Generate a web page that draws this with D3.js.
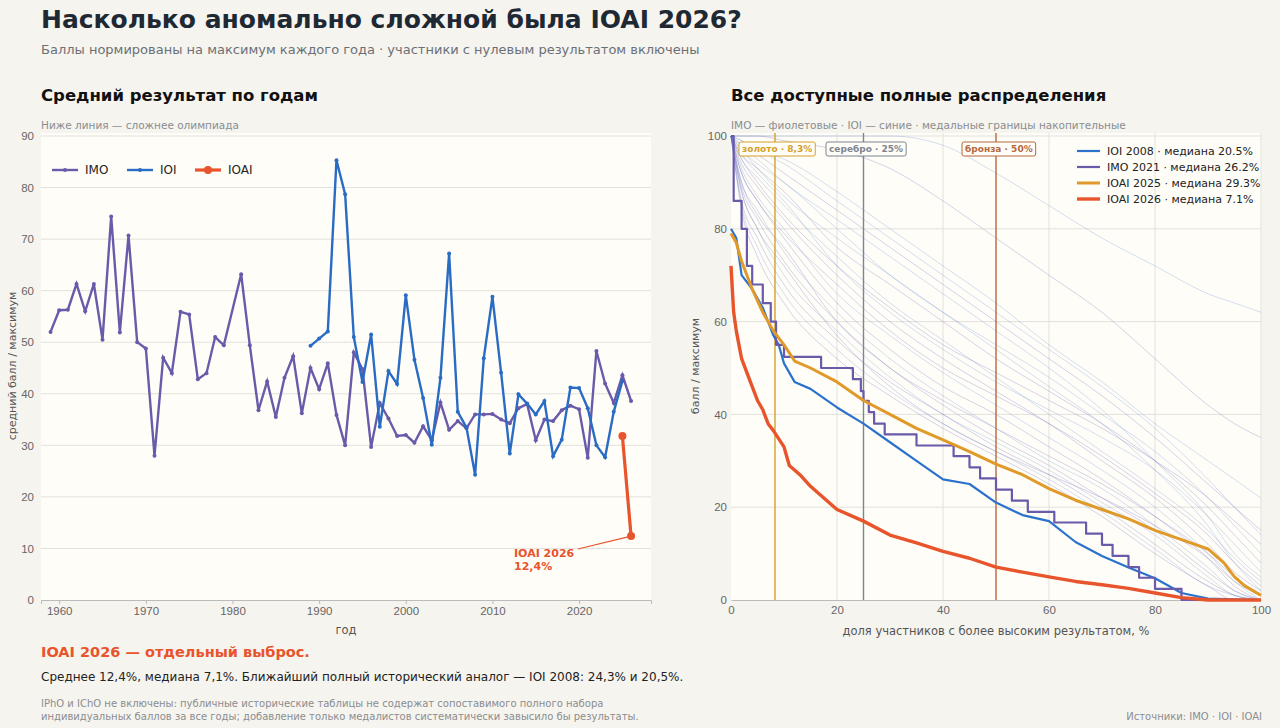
<!DOCTYPE html>
<html><head><meta charset="utf-8">
<script src="https://cdn.jsdelivr.net/npm/d3@7"></script>
<style>body{margin:0;background:#f6f4ef;font-family:"DejaVu Sans",sans-serif}</style>
</head><body><div id="chart"></div>
<script>
// DATA
var imoYears = [1959,1960,1961,1962,1963,1964,1965,1966,1967,1968,1969,1970,1971,1972,1973,1974,1975,1976,1977,1978,1979,1981,1982,1983,1984,1985,1986,1987,1988,1989,1990,1991,1992,1993,1994,1995,1996,1997,1998,1999,2000,2001,2002,2003,2004,2005,2006,2007,2008,2009,2010,2011,2012,2013,2014,2015,2016,2017,2018,2019,2020,2021,2022,2023,2024,2025,2026];
var imoMeans = [52,56.2,56.3,61.3,56,61.3,50.5,74.4,51.9,70.7,50,48.8,28,47,44,55.9,55.4,42.8,44,51,49.4,63.2,49.4,36.8,42.4,35.5,43.1,47.3,36.2,45,40.9,45.9,35.9,30,48,44.8,29.7,38.2,35.2,31.8,32,30.5,33.7,31,38.3,33,34.7,33.3,36,36,36.1,35,34.3,37.2,38,31,35,34.7,36.8,37.7,37,27.6,48.3,42,38.2,43.6,38.6];
var ioiYears = [1989,1990,1991,1992,1993,1994,1995,1996,1997,1998,1999,2000,2001,2002,2003,2004,2005,2006,2007,2008,2009,2010,2011,2012,2013,2014,2015,2016,2017,2018,2019,2020,2021,2022,2023,2024,2025];
var ioiMeans = [49.3,50.7,52.1,85.3,78.7,51,42.3,51.5,33.6,44.4,41.9,59.1,46.6,39.2,30.1,43.1,67.2,36.5,33.5,24.3,46.9,58.8,44.1,28.4,39.9,38.1,36,38.6,27.9,31.1,41.2,41.1,37.2,30,27.7,36.5,42.5];
var ioaiYears = [2025,2026];
var ioaiMeans = [31.8,12.4];

var ioi2008 = [[0,80],[1,78],[2,70],[4,67],[6,63],[8,57],[9,55],[10,51],[12,47],[15,45.5],[20,41.5],[25,38],[30,34],[35,30],[40,26],[45,25],[50,21],[55,18.3],[60,17],[65,12.5],[70,9.5],[75,7],[80,4.7],[85,1.5],[90,0.3],[100,0]];
var imo2021 = [[0,100],[0.5,86],[2,80],[3,72],[4,68],[6,64],[7.5,60],[8.5,55],[10,52.4],[17,50],[23,47.6],[24.5,45],[25,42.9],[26,40.5],[27,38],[29,35.7],[35,33.3],[42,31],[45,28.6],[47,26.2],[50,23.8],[53,21.4],[56,19],[61,16.7],[67,14.3],[70,11.9],[72,9.5],[75,7.1],[77,4.8],[80,2.4],[85,0],[100,0]];
var ioai2025 = [[0,79],[1,77],[2,73],[4,67],[6,62],[8,58],[10,55],[12,51.5],[15,50],[20,47],[25,43],[30,40],[35,37],[40,34.5],[45,32],[50,29.3],[55,27],[60,24],[65,21.5],[70,19.5],[75,17.5],[80,15],[85,13],[90,11],[93,8],[95,5],[97,3],[100,1]];
var ioai2026 = [[0,72],[0.5,62],[1,58],[2,52],[3,49],[4,46],[5,43],[6,41],[7,38],[8,36.5],[10,33],[11,29],[13,27],[15,24.5],[18,21.5],[20,19.5],[25,17],[30,14],[35,12.3],[40,10.5],[45,9],[50,7.1],[55,6],[60,5],[65,4],[70,3.3],[75,2.5],[80,1.5],[85,0.5],[90,0],[100,0]];

// faint background distributions: score at these % points
var bgPct = [0,2,5,10,20,30,40,50,60,70,80,90,95,100];
var bgCurves = [
  [100,100,100,100,100,100,98,92,85,78,72,66,64,62],
  [100,100,100,99,97,93,86,78,70,62,52,42,38,35],
  [100,99,97,95,88,80,72,64,55,47,38,30,26,22],
  [100,98,96,92,84,76,68,60,52,44,35,25,20,15],
  [100,97,94,90,80,70,62,55,48,40,32,22,16,10],
  [100,96,93,88,76,68,60,52,45,38,30,20,14,8],
  [100,95,91,85,74,64,56,48,40,32,24,15,9,4],
  [100,94,89,82,70,60,52,45,38,30,22,12,6,2],
  [100,93,87,80,66,57,49,42,35,28,20,10,4,0],
  [100,92,86,78,64,54,46,40,33,26,18,9,3,0],
  [100,90,84,75,62,52,44,37,30,24,16,7,2,0],
  [100,89,82,73,60,50,42,35,29,22,15,6,2,0],
  [100,88,80,70,58,48,40,34,28,21,14,5,1,0],
  [100,86,78,68,56,47,40,33,27,20,12,4,1,0],
  [100,85,76,66,54,45,38,32,26,19,11,3,1,0],
  [100,84,74,64,52,44,37,31,25,18,10,3,0,0],
  [100,96,92,86,72,62,54,47,41,35,28,18,12,6],
  [100,95,90,83,72,63,55,49,43,37,30,22,17,12],
  [100,98,95,90,82,74,66,58,50,41,30,18,10,5],
  [100,92,86,79,68,58,50,44,38,31,23,14,8,3],
  [100,99,97,94,86,78,70,62,54,46,37,26,20,14],
  [100,90,83,76,60,50,43,37,31,25,18,10,5,1],
  [100,97,93,87,78,70,62,54,46,38,28,16,8,2],
  [100,88,80,72,57,46,38,32,27,22,16,9,4,1]
];

var medalPct = [8.3, 25, 50];
var medalLabels = ["золото · 8,3%", "серебро · 25%", "бронза · 50%"];
var medalColors = ["#d4a02a", "#7d8590", "#b5683d"];

var width = 1280, height = 728;
var svg = d3.select("#chart").append("svg").attr("width", width).attr("height", height);
svg.append("rect").attr("width", width).attr("height", height).attr("fill", "#f6f4ef");

// TITLES
svg.append("text").attr("x", 41).attr("y", 28).attr("font-size", 25).attr("font-weight", "bold")
  .attr("fill", "#1f2933").text("Насколько аномально сложной была IOAI 2026?");
svg.append("text").attr("x", 41).attr("y", 54).attr("font-size", 13).attr("fill", "#6b7076")
  .text("Баллы нормированы на максимум каждого года · участники с нулевым результатом включены");
svg.append("text").attr("x", 41).attr("y", 101).attr("font-size", 16.5).attr("font-weight", "bold")
  .attr("fill", "#111").text("Средний результат по годам");
svg.append("text").attr("x", 41).attr("y", 129).attr("font-size", 10.5).attr("fill", "#8a8d90")
  .text("Ниже линия — сложнее олимпиада");
svg.append("text").attr("x", 731).attr("y", 101).attr("font-size", 16.5).attr("font-weight", "bold")
  .attr("fill", "#111").text("Все доступные полные распределения");
svg.append("text").attr("x", 731).attr("y", 129).attr("font-size", 10.5).attr("fill", "#8a8d90")
  .text("IMO — фиолетовые · IOI — синие · медальные границы накопительные");

// LEFT CHART
var L = {l: 41, r: 651, t: 133, b: 600};
var x = d3.scaleLinear().domain([1957.9, 2028.3]).range([L.l, L.r]);
var y = d3.scaleLinear().domain([0, 90]).range([L.b, 136]);
var left = svg.append("g");
left.append("rect").attr("x", L.l).attr("y", L.t).attr("width", L.r - L.l).attr("height", L.b - L.t).attr("fill", "#fffdf8");
left.append("g").selectAll("line").data(d3.range(10, 91, 10)).enter().append("line")
  .attr("x1", L.l).attr("x2", L.r).attr("y1", y).attr("y2", y).attr("stroke", "#e3e1dc");
var ax = left.append("g").attr("transform", "translate(0," + L.b + ")")
  .call(d3.axisBottom(x).tickValues(d3.range(1960, 2021, 10)).tickFormat(d3.format("d")).tickSize(4));
var ay = left.append("g").attr("transform", "translate(" + L.l + ",0)")
  .call(d3.axisLeft(y).tickValues(d3.range(0, 91, 10)).tickSize(0).tickPadding(7));
[ax, ay].forEach(function(a){
  a.select(".domain").attr("stroke", "#bbb");
  a.selectAll("line").attr("stroke", "#bbb");
  a.selectAll("text").attr("fill", "#666").attr("font-size", 11.5);
});
ay.select(".domain").remove();
left.append("text").attr("x", 346).attr("y", 634).attr("text-anchor", "middle").attr("font-size", 11.5).attr("fill", "#555").text("год");
left.append("text").attr("transform", "translate(16,366) rotate(-90)").attr("text-anchor", "middle")
  .attr("font-size", 11).attr("fill", "#555").text("средний балл / максимум");

var series = [
  {name: "IMO", xs: imoYears, ys: imoMeans, color: "#6a5aaa", w: 2.4, r: 2},
  {name: "IOI", xs: ioiYears, ys: ioiMeans, color: "#2a6cc4", w: 2.4, r: 2},
  {name: "IOAI", xs: ioaiYears, ys: ioaiMeans, color: "#e8542c", w: 3.2, r: 4}
];
var line = d3.line().x(function(d){ return x(d[0]); }).y(function(d){ return y(d[1]); });
series.forEach(function(s){
  var pts = s.xs.map(function(v, i){ return [v, s.ys[i]]; });
  left.append("path").datum(pts).attr("d", line).attr("fill", "none").attr("stroke", s.color).attr("stroke-width", s.w);
  left.append("g").selectAll("circle").data(pts).enter().append("circle")
    .attr("cx", function(d){ return x(d[0]); }).attr("cy", function(d){ return y(d[1]); })
    .attr("r", s.r).attr("fill", s.color);
});
// legend
var lg = left.append("g");
series.forEach(function(s, i){
  var lx = [52, 127, 195][i];
  lg.append("line").attr("x1", lx).attr("x2", lx + 26).attr("y1", 170).attr("y2", 170).attr("stroke", s.color).attr("stroke-width", s.w);
  lg.append("circle").attr("cx", lx + 13).attr("cy", 170).attr("r", s.r).attr("fill", s.color);
  lg.append("text").attr("x", lx + 33).attr("y", 174).attr("font-size", 12).attr("fill", "#222").text(s.name);
});
// annotation
left.append("line").attr("x1", 578).attr("y1", 549).attr("x2", x(2026)).attr("y2", y(12.4)).attr("stroke", "#e8542c").attr("stroke-width", 1.2);
left.append("text").attr("x", 514).attr("y", 557).attr("font-size", 11).attr("font-weight", "bold").attr("fill", "#e8542c").text("IOAI 2026");
left.append("text").attr("x", 514).attr("y", 570).attr("font-size", 11).attr("font-weight", "bold").attr("fill", "#e8542c").text("12,4%");

// RIGHT CHART
var R = {l: 731, r: 1261, t: 133, b: 600};
var px = d3.scaleLinear().domain([0, 100]).range([R.l, R.r]);
var py = d3.scaleLinear().domain([0, 100]).range([R.b, 136]);
var right = svg.append("g");
right.append("rect").attr("x", R.l).attr("y", R.t).attr("width", R.r - R.l).attr("height", R.b - R.t).attr("fill", "#fffdf8");
right.append("g").selectAll("line").data(d3.range(20, 101, 20)).enter().append("line")
  .attr("x1", R.l).attr("x2", R.r).attr("y1", py).attr("y2", py).attr("stroke", "#e3e1dc");
right.append("g").selectAll("line").data(d3.range(20, 101, 20)).enter().append("line")
  .attr("y1", R.t).attr("y2", R.b).attr("x1", px).attr("x2", px).attr("stroke", "#e3e1dc");
var bx = right.append("g").attr("transform", "translate(0," + R.b + ")")
  .call(d3.axisBottom(px).tickValues(d3.range(0, 101, 20)).tickSize(0).tickPadding(6));
var by = right.append("g").attr("transform", "translate(" + R.l + ",0)")
  .call(d3.axisLeft(py).tickValues(d3.range(0, 101, 20)).tickSize(0).tickPadding(4));
[bx, by].forEach(function(a){
  a.select(".domain").attr("stroke", "#bbb");
  a.selectAll("text").attr("fill", "#666").attr("font-size", 11.5);
});
by.select(".domain").remove();
right.append("text").attr("x", 996).attr("y", 635).attr("text-anchor", "middle").attr("font-size", 11.5).attr("fill", "#555")
  .text("доля участников с более высоким результатом, %");
right.append("text").attr("transform", "translate(699,366) rotate(-90)").attr("text-anchor", "middle")
  .attr("font-size", 11).attr("fill", "#555").text("балл / максимум");

var step = d3.line().curve(d3.curveStepAfter).x(function(d){ return px(d[0]); }).y(function(d){ return py(d[1]); });
var bgLine = d3.line().curve(d3.curveMonotoneX).x(function(d){ return px(d[0]); }).y(function(d){ return py(d[1]); });
right.append("g").selectAll("path").data(bgCurves).enter().append("path")
  .attr("d", function(c){ return bgLine(c.map(function(v, i){ return [bgPct[i], v]; })); })
  .attr("fill", "none").attr("stroke-width", 1)
  .attr("stroke", function(c, i){ return i % 2 ? "rgba(90,80,180,0.25)" : "rgba(60,110,200,0.22)"; });

// medal lines
medalPct.forEach(function(m, i){
  right.append("line").attr("x1", px(m)).attr("x2", px(m)).attr("y1", R.t).attr("y2", R.b)
    .attr("stroke", medalColors[i]).attr("stroke-width", 1.4);
});
var mainCurves = [
  {data: ioi2008, color: "#2a72cc", w: 2.2, label: "IOI 2008 · медиана 20.5%"},
  {data: imo2021, color: "#6a5aaa", w: 2.2, label: "IMO 2021 · медиана 26.2%"},
  {data: ioai2025, color: "#e09a2a", w: 3, label: "IOAI 2025 · медиана 29.3%"},
  {data: ioai2026, color: "#e8542c", w: 3.4, label: "IOAI 2026 · медиана 7.1%"}
];
var smooth = d3.line().x(function(d){ return px(d[0]); }).y(function(d){ return py(d[1]); });
mainCurves.forEach(function(c, i){
  right.append("path").datum(c.data).attr("d", i === 1 ? step : smooth).attr("fill", "none")
    .attr("stroke", c.color).attr("stroke-width", c.w).attr("stroke-linejoin", "round");
  var ly = 151 + i * 16;
  right.append("line").attr("x1", 1077).attr("x2", 1100).attr("y1", ly).attr("y2", ly).attr("stroke", c.color).attr("stroke-width", c.w);
  right.append("text").attr("x", 1107).attr("y", ly + 4).attr("font-size", 11).attr("fill", "#222").text(c.label);
});
// medal labels
medalPct.forEach(function(m, i){
  var lx = [739, 826, 962][i];
  var g = right.append("g");
  var box = g.append("rect");
  var t = g.append("text").attr("x", lx + 3).attr("y", 152).attr("font-size", 9).attr("font-weight", "bold")
    .attr("fill", medalColors[i]).text(medalLabels[i]);
  var bb = t.node().getBBox();
  box.attr("x", bb.x - 3).attr("y", bb.y - 2).attr("width", bb.width + 6).attr("height", bb.height + 4)
    .attr("rx", 2).attr("fill", "#fffdf8").attr("stroke", medalColors[i]).attr("stroke-width", 1);
});

// FOOTER
svg.append("text").attr("x", 41).attr("y", 657).attr("font-size", 14.5).attr("font-weight", "bold").attr("fill", "#e8542c")
  .text("IOAI 2026 — отдельный выброс.");
svg.append("text").attr("x", 41).attr("y", 681).attr("font-size", 12).attr("fill", "#222")
  .text("Среднее 12,4%, медиана 7,1%. Ближайший полный исторический аналог — IOI 2008: 24,3% и 20,5%.");
svg.append("text").attr("x", 41).attr("y", 707).attr("font-size", 10).attr("fill", "#8a8d90")
  .text("IPhO и IChO не включены: публичные исторические таблицы не содержат сопоставимого полного набора");
svg.append("text").attr("x", 41).attr("y", 720).attr("font-size", 10).attr("fill", "#8a8d90")
  .text("индивидуальных баллов за все годы; добавление только медалистов систематически завысило бы результаты.");
svg.append("text").attr("x", 1262).attr("y", 720).attr("text-anchor", "end").attr("font-size", 10).attr("fill", "#8a8d90")
  .text("Источники: IMO · IOI · IOAI");
</script></body></html>
